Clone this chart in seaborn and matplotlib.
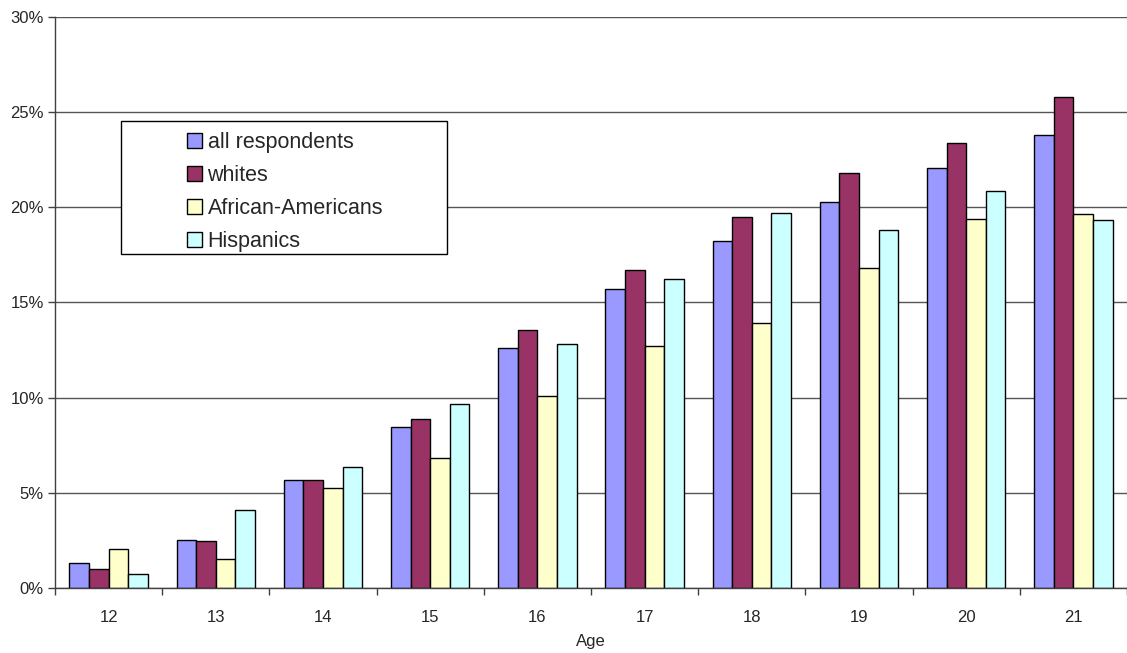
import numpy as np
import pandas as pd
import matplotlib
matplotlib.use("Agg")
import matplotlib.pyplot as plt
import seaborn as sns
from matplotlib.patches import Rectangle
from matplotlib.ticker import FuncFormatter, FixedLocator

# Share of respondents by age (%)
ages = ["12", "13", "14", "15", "16", "17", "18", "19", "20", "21"]
groups = ["all respondents", "whites", "African-Americans", "Hispanics"]
all_resp = [1.33, 2.52, 5.65, 8.48, 12.59, 15.69, 18.23, 20.27, 22.08, 23.78]
whites = [0.98, 2.47, 5.70, 8.90, 13.56, 16.69, 19.50, 21.79, 23.40, 25.81]
african_am = [2.07, 1.52, 5.28, 6.83, 10.09, 12.74, 13.90, 16.79, 19.38, 19.65]
hispanics = [0.74, 4.11, 6.36, 9.69, 12.83, 16.23, 19.72, 18.79, 20.86, 19.32]
colors = ["#9999FF", "#993366", "#FFFFCC", "#CCFFFF"]

df = pd.DataFrame({
    "Age": ages * 4,
    "group": np.repeat(groups, len(ages)),
    "value": all_resp + whites + african_am + hispanics,
})

sns.set_style("white")
plt.rcParams["font.family"] = ["Liberation Sans", "DejaVu Sans"]

fig = plt.figure(figsize=(11.27, 6.53), dpi=100)
ax = fig.add_axes([55 / 1127, 1 - 588 / 653, (1127 - 55) / 1127, (588 - 17) / 653])

sns.barplot(data=df, x="Age", y="value", hue="group", hue_order=groups,
            palette=colors, width=0.73, gap=0, edgecolor="black",
            linewidth=1, saturation=1, ax=ax, legend=False)

ax.set_ylim(0, 30)
ax.set_xlim(-0.5, len(ages) - 0.5)
ax.set_yticks(np.arange(0, 31, 5))
ax.yaxis.set_major_formatter(FuncFormatter(lambda v, p: f"{v:.0f}%"))
ax.grid(axis="y", color="#555555", linewidth=1)
ax.set_axisbelow(True)

for s in ["top", "right"]:
    ax.spines[s].set_visible(False)
for s in ["left", "bottom"]:
    ax.spines[s].set_color("#404040")
    ax.spines[s].set_linewidth(1)

ax.tick_params(axis="y", which="major", direction="out", length=5, width=1,
               color="#404040", labelsize=12, pad=3, left=True)
ax.tick_params(axis="x", which="major", length=0, labelsize=12, pad=16)
ax.xaxis.set_minor_locator(FixedLocator(np.arange(-0.5, len(ages), 1.0)))
ax.tick_params(axis="x", which="minor", direction="out", length=5, width=1,
               color="#404040", bottom=True)
ax.set_xlabel("Age", fontsize=12, labelpad=6)
ax.set_ylabel("")

# legend box
fig.patches.append(Rectangle((121 / 1127, 1 - 254 / 653), 326 / 1127, 133 / 653,
                             transform=fig.transFigure, facecolor="white",
                             edgecolor="black", linewidth=1, zorder=5))
handles = [Rectangle((0, 0), 1, 1, facecolor=c, edgecolor="black", linewidth=1)
           for c in colors]
leg = fig.legend(handles, groups, loc="upper left",
                 bbox_to_anchor=(172 / 1127, 1 - 117 / 653), frameon=False,
                 fontsize=15.5, handlelength=0.7, handleheight=0.7,
                 handletextpad=0.25, labelspacing=0.55, borderpad=0.2)
leg.set_zorder(6)

fig.savefig("out.png", dpi=100)
